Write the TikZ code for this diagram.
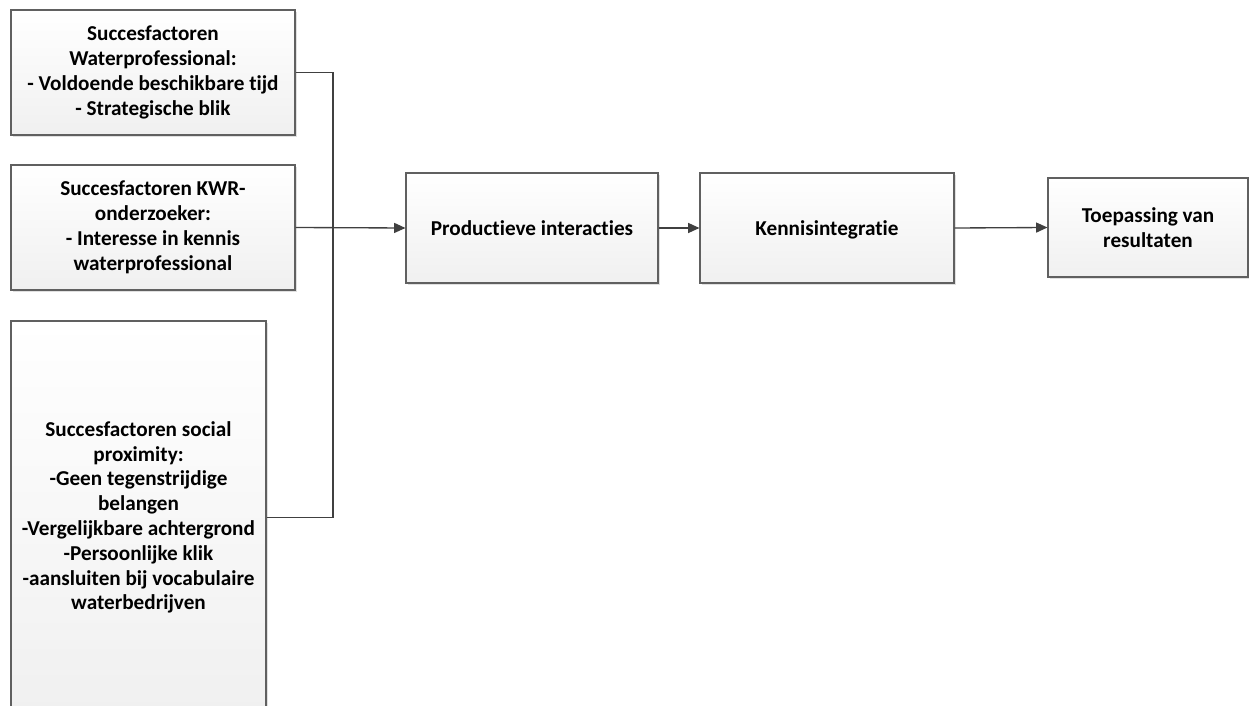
\documentclass[tikz,border=0pt]{standalone}
\usepackage{fontspec}
\setmainfont{Carlito}[Ligatures=NoCommon]
\usetikzlibrary{arrows.meta,shadows}
\definecolor{edge}{HTML}{606060}
\definecolor{conn}{HTML}{404040}
\definecolor{fillbot}{HTML}{F0F0F0}
\tikzset{
  box/.style={draw=edge, line width=0.8pt, top color=white, bottom color=fillbot,
    align=center, inner sep=2pt,
    font=\fontsize{15.9}{18.6}\selectfont\bfseries,
    drop shadow={shadow xshift=1.5pt, shadow yshift=-1.5pt, fill=black, opacity=0.12}},
  oneline/.style={text height=12.5pt, text depth=1pt},
  conn/.style={draw=conn, line width=1pt},
  arr/.style={conn, -{Triangle[length=8.5pt,width=7.5pt]}}
}
\begin{document}
\begin{tikzpicture}[x=0.75pt,y=-0.75pt]
\useasboundingbox (0,0) rectangle (1249,706);
\node[box, minimum width=213pt, minimum height=93.75pt] (b1) at (153,72.5)
  {Succesfactoren\\Waterprofessional:\\- Voldoende beschikbare tijd\\- Strategische blik};
\node[box, minimum width=213pt, minimum height=93.75pt] (b2) at (153,227.5)
  {Succesfactoren KWR-\\onderzoeker:\\- Interesse in kennis\\waterprofessional};
\node[box, minimum width=191.25pt, minimum height=294.75pt] (b3) at (138.5,517.5)
  {Succesfactoren social\\proximity:\\-Geen tegenstrijdige\\belangen\\-Vergelijkbare achtergrond\\-Persoonlijke klik\\-aansluiten bij vocabulaire\\waterbedrijven};
\node[box, oneline, minimum width=189pt, minimum height=82.5pt] (b4) at (532,228)
  {Productieve interacties};
\node[box, oneline, minimum width=190.5pt, minimum height=82.5pt] (b5) at (827,228)
  {Kennisintegratie};
\node[box, minimum width=150pt, minimum height=74.25pt] (b6) at (1148,227.5)
  {Toepassing van\\resultaten};
\coordinate (j) at (333,228);
\draw[conn] (b1.east) -| (j);
\draw[conn] (b3.east) -| (j);
\draw[arr] (b2.east) -- (b4.west);
\draw[arr] (b4.east) -- (b5.west);
\draw[arr] (b5.east) -- (b6.west);
\end{tikzpicture}
\end{document}
